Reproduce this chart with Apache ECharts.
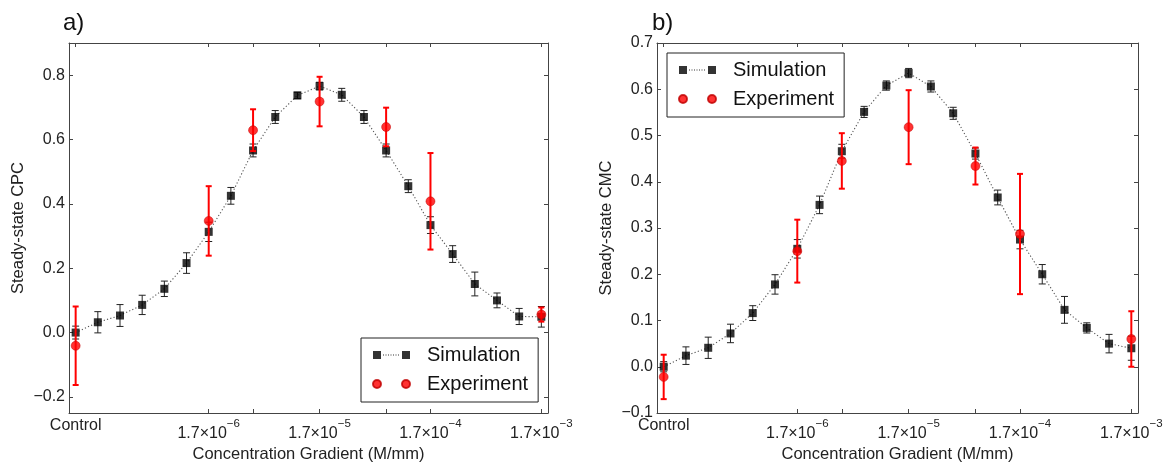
<!DOCTYPE html>
<html><head><meta charset="utf-8">
<script src="https://cdn.jsdelivr.net/npm/echarts@6/dist/echarts.min.js"></script>
<style>html,body{margin:0;padding:0;background:#fff}#c{width:1169px;height:464px}</style>
</head><body><div id="c"></div>
<script>
// ---------- data ----------
const simX = [0,1,2,3,4,5,6,7,8,9,10,11,12,13,14,15,16,17,18,19,20,21];
const expX = [0,6,8,11,14,16,21];

const simA    = [0.000,0.032,0.053,0.086,0.136,0.216,0.313,0.425,0.566,0.670,0.737,0.766,0.739,0.670,0.566,0.455,0.334,0.244,0.151,0.100,0.050,0.049];
const simAErr = [0.020,0.033,0.034,0.030,0.024,0.032,0.030,0.026,0.020,0.020,0.010,0.012,0.020,0.020,0.020,0.020,0.026,0.026,0.037,0.023,0.025,0.032];
const expA    = [-0.041,0.347,0.629,0.718,0.639,0.408,0.056];
const expAErr = [0.122,0.108,0.065,0.077,0.060,0.150,0.022];

const simB    = [0.000,0.024,0.041,0.072,0.116,0.178,0.255,0.350,0.466,0.551,0.608,0.635,0.606,0.548,0.461,0.366,0.275,0.200,0.123,0.084,0.050,0.040];
const simBErr = [0.011,0.019,0.023,0.020,0.016,0.021,0.020,0.019,0.015,0.012,0.010,0.010,0.012,0.013,0.012,0.016,0.020,0.021,0.029,0.011,0.020,0.026];
const expB    = [-0.022,0.250,0.445,0.518,0.434,0.287,0.060];
const expBErr = [0.048,0.068,0.060,0.080,0.040,0.130,0.060];

const xLabelPos  = [0,6,11,16,21];
const xLabelBase = ['Control','1.7×10','1.7×10','1.7×10','1.7×10'];
const xLabelExp  = ['','−6','−5','−4','−3'];
const xTickBottom = [6,8,11,14,16,21];
const xTickTop    = [0,6,8,11,14,16,21];
const yTicksA = [-0.2,0,0.2,0.4,0.6,0.8];
const yTicksB = [-0.1,0,0.1,0.2,0.3,0.4,0.5,0.6,0.7];

// ---------- styling ----------
const FONT = '"Liberation Sans", Arial, Helvetica, sans-serif';
const AX = '#444';
const TXT = '#222';

function xLabelFmt(v){
  const i = xLabelPos.indexOf(Math.round(v));
  if (i < 0) return '';
  if (!xLabelExp[i]) return '{c|' + xLabelBase[i] + '}';
  return '{b|' + xLabelBase[i] + '}{s|' + xLabelExp[i] + '}';
}
function yFmt(v){ return (v < -1e-9 ? '\u2212' : '') + Math.abs(v).toFixed(1); }

const rich = {
  c: {fontSize:16, fontFamily:FONT, color:TXT, lineHeight:16},
  b: {fontSize:16, fontFamily:FONT, color:TXT, verticalAlign:'bottom', lineHeight:16, padding:[9,0,0,0]},
  s: {fontSize:11.5, fontFamily:FONT, color:TXT, verticalAlign:'top', lineHeight:24}
};

function axesFor(g, yTicks, ymin, ymax, yName){
  const xs = [
    {type:'value', gridIndex:g, min:-0.3, max:21.3, position:'bottom',
     axisLine:{show:true, onZero:false, lineStyle:{color:AX, width:1}},
     axisTick:{show:true, inside:true, length:4, customValues:xTickBottom, lineStyle:{color:AX}},
     axisLabel:{show:true, customValues:xLabelPos, formatter:xLabelFmt, margin:5, rich:rich,
                fontFamily:FONT, fontSize:16, color:TXT},
     splitLine:{show:false},
     name:'Concentration Gradient (M/mm)', nameLocation:'middle', nameGap:33, nameMoveOverlap:false,
     nameTextStyle:{fontFamily:FONT, fontSize:16.5, color:TXT}},
    {type:'value', gridIndex:g, min:-0.3, max:21.3, position:'top',
     axisLine:{show:true, onZero:false, lineStyle:{color:AX, width:1}},
     axisTick:{show:true, inside:true, length:4, customValues:xTickTop, lineStyle:{color:AX}},
     axisLabel:{show:false}, splitLine:{show:false}}
  ];
  const ys = [
    {type:'value', gridIndex:g, min:ymin, max:ymax, position:'left',
     axisLine:{show:true, onZero:false, lineStyle:{color:AX, width:1}},
     axisTick:{show:true, inside:true, length:4, customValues:yTicks, lineStyle:{color:AX}},
     axisLabel:{show:true, customValues:yTicks, formatter:yFmt, margin:4,
                fontFamily:FONT, fontSize:16, color:TXT},
     splitLine:{show:false},
     name:yName, nameLocation:'middle', nameGap:42, nameMoveOverlap:false,
     nameTextStyle:{fontFamily:FONT, fontSize:16.5, color:TXT}},
    {type:'value', gridIndex:g, min:ymin, max:ymax, position:'right',
     axisLine:{show:true, onZero:false, lineStyle:{color:AX, width:1}},
     axisTick:{show:true, inside:true, length:4, customValues:yTicks, lineStyle:{color:AX}},
     axisLabel:{show:false}, splitLine:{show:false}}
  ];
  return {xs, ys};
}

function errBars(xs, ys, es, xi, yi, color, width, cap, z){
  return {
    type:'custom', coordinateSystem:'cartesian2d', xAxisIndex:xi, yAxisIndex:yi, z:z, silent:true,
    data: xs.map((x,i)=>[x, ys[i], es[i]]),
    encode:{x:0, y:1},
    renderItem:(params, api)=>{
      const x = api.value(0), y = api.value(1), e = api.value(2);
      const t = api.coord([x, y+e]), b = api.coord([x, y-e]);
      const st = {stroke:color, lineWidth:width, fill:null};
      return {type:'group', children:[
        {type:'line', shape:{x1:t[0], y1:t[1], x2:b[0], y2:b[1]}, style:st},
        {type:'line', shape:{x1:t[0]-cap, y1:t[1], x2:t[0]+cap, y2:t[1]}, style:st},
        {type:'line', shape:{x1:b[0]-cap, y1:b[1], x2:b[0]+cap, y2:b[1]}, style:st}
      ]};
    }
  };
}

function seriesFor(xi, yi, sim, simErr, exp, expErr){
  return [
    {type:'line', name:'_line', xAxisIndex:xi, yAxisIndex:yi, z:2, silent:true,
     data: simX.map((x,i)=>[x, sim[i]]), showSymbol:false, symbol:'none',
     lineStyle:{color:'#555', width:1.1, type:[1.2,2.2]}},
    errBars(simX, sim, simErr, xi, yi, '#222', 1, 3.5, 3),
    {type:'scatter', name:'Simulation', xAxisIndex:xi, yAxisIndex:yi, z:4, silent:true,
     data: simX.map((x,i)=>[x, sim[i]]), symbol:'rect', symbolSize:8,
     itemStyle:{color:'#000'}},
    errBars(expX, exp, expErr, xi, yi, '#ff0000', 2, 3, 5),
    {type:'scatter', name:'Experiment', xAxisIndex:xi, yAxisIndex:yi, z:6, silent:true,
     data: expX.map((x,i)=>[x, exp[i]]), symbol:'circle', symbolSize:9,
     itemStyle:{color:'#ff0000', borderColor:'#c00000', borderWidth:0.6}}
  ];
}

// legend icons
let simIcon = 'path://M0 0h8v8h-8zM29 0h8v8h-8z';
for (let x = 10; x < 27.5; x += 2.5) simIcon += 'M' + x + ' 3.5h1v1h-1z';
const expIcon = 'path://M0 4a4 4 0 1 0 8 0a4 4 0 1 0 -8 0zM29 4a4 4 0 1 0 8 0a4 4 0 1 0 -8 0z';

function legendAt(left, top){
  return {orient:'vertical', left:left, top:top, itemWidth:37, itemHeight:8, itemGap:9,
    padding:[7,10,8,11], borderColor:'#222', borderWidth:1, backgroundColor:'#fff',
    selectedMode:false,
    textStyle:{fontFamily:FONT, fontSize:20, color:'#111', padding:[0,0,0,12]},
    data:[{name:'Simulation', icon:simIcon}, {name:'Experiment', icon:expIcon}]};
}

const A = axesFor(0, yTicksA, -0.25, 0.9, 'Steady-state CPC');
const B = axesFor(1, yTicksB, -0.1, 0.7, 'Steady-state CMC');

const option = {
  animation:false,
  backgroundColor:'#fff',
  title:[
    {text:'a)', left:63, top:11, padding:0, textStyle:{fontFamily:FONT, fontSize:24, fontWeight:'normal', color:'#111'}},
    {text:'b)', left:652, top:11, padding:0, textStyle:{fontFamily:FONT, fontSize:24, fontWeight:'normal', color:'#111'}}
  ],
  grid:[
    {left:69, top:43, width:479, height:370, outerBoundsMode:'none', containLabel:false},
    {left:657, top:43, width:481, height:370, outerBoundsMode:'none', containLabel:false}
  ],
  xAxis:[...A.xs, ...B.xs],
  yAxis:[...A.ys, ...B.ys],
  legend:[legendAt(361, 338), legendAt(667, 53)],
  series:[
    ...seriesFor(0, 0, simA, simAErr, expA, expAErr),
    ...seriesFor(2, 2, simB, simBErr, expB, expBErr)
  ]
};

const chart = echarts.init(document.getElementById('c'), null, {renderer:'canvas'});
chart.setOption(option);
</script>
</body></html>
